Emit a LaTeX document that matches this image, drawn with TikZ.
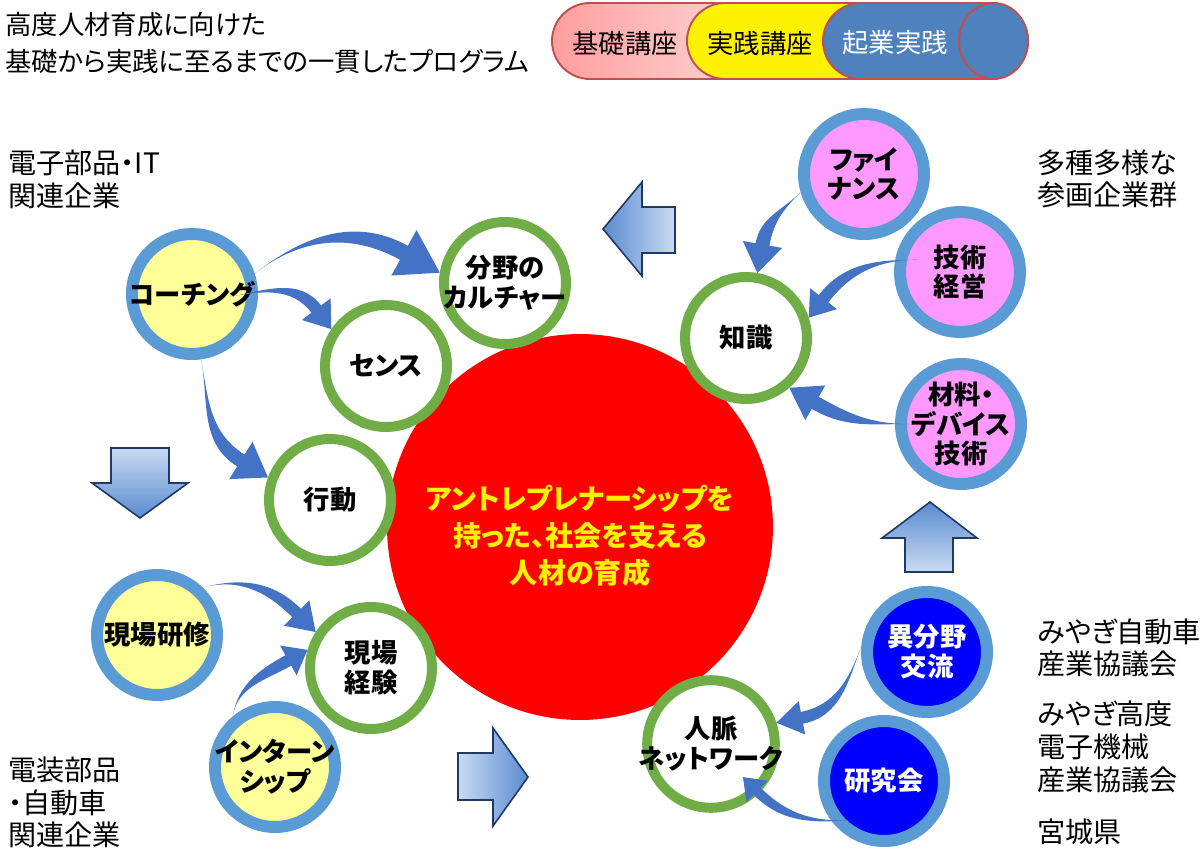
\documentclass[tikz,border=0pt]{standalone}
\usepackage{fontspec}
\setmainfont{Noto Sans CJK JP}[RawFeature=+palt]
\usepackage{tikz}
\usetikzlibrary{calc}

\definecolor{ringgreen}{HTML}{70AD47}
\definecolor{ringblue}{HTML}{5B9BD5}
\definecolor{paleyellow}{HTML}{FFFF99}
\definecolor{pink}{HTML}{FF99FF}
\definecolor{deepblue}{HTML}{0000FF}
\definecolor{flowblue}{HTML}{4472C4}
\definecolor{arrowlight}{HTML}{C9DBF2}
\definecolor{arrowdark}{HTML}{5A8BD0}
\definecolor{arrowline}{HTML}{1F3864}
\definecolor{legred}{HTML}{C0504D}
\definecolor{pinkdark}{HTML}{FF9E9E}
\definecolor{pinklight}{HTML}{FFDADA}
\definecolor{legblue}{HTML}{4F81BD}

% tapered curved arrow: from, out, tip, in, head length, head half width, shaft half width
\newcommand{\bendarrow}[7]{%
  \fill[flowblue] (#1) to[out=#2,in=#4] ($(#3)+(#4:#5)+(#4-90:#7)$)
    -- ($(#3)+(#4:#5)+(#4-90:#6)$) -- (#3) -- ($(#3)+(#4:#5)+(#4+90:#6)$)
    -- ($(#3)+(#4:#5)+(#4+90:#7)$) to[out=#4,in=#2] (#1) -- cycle;}

\begin{document}
\begin{tikzpicture}[x=0.02cm, y=0.02cm,
    greenring/.style={circle, draw=ringgreen, line width=0.2cm, fill=white, minimum size=2.44cm, inner sep=-6pt, align=center, font=\fontsize{15}{17}\selectfont\bfseries},
    bluering/.style={circle, draw=ringblue, line width=0.24cm, minimum size=2.4cm, inner sep=-6pt, align=center, font=\fontsize{15}{17}\selectfont\bfseries},
    sidetext/.style={inner sep=0pt, anchor=north west, align=left, font=\fontsize{16}{18.5}\selectfont},
    legtext/.style={inner sep=0pt, font=\fontsize{15}{17}\selectfont},
    legendline/.style={draw=legred, line width=1.1pt},
    blockarrow/.style={draw=arrowline, line width=0.9pt, line join=miter}]

    \useasboundingbox (0,0) rectangle (1200,-858);

    % Centre
    \node[circle, fill=red, minimum size=7.72cm, inner sep=0pt] (goal) at (580,-527) {};
    \node[align=center, text=yellow, font=\fontsize{16}{21}\selectfont\bfseries] (goaltext) at ($(goal)+(0,-9)$)
        {アントレプレナーシップを\\持った、社会を支える\\人材の育成};

    % Nodes
    \node[greenring] (culture) at (505,-283) {分野の\\カルチャー};
    \node[greenring] (sense) at (386,-366) {センス};
    \node[greenring] (action) at (330,-500) {行動};
    \node[greenring] (field) at (371,-668) {現場\\経験};
    \node[greenring] (network) at (711,-744) {人脈\\ネットワーク};
    \node[greenring] (knowledge) at (746,-338) {知識};

    \node[bluering, fill=paleyellow] (coach) at (192,-294) {コーチング};
    \node[bluering, fill=paleyellow] (training) at (157,-635) {現場研修};
    \node[bluering, fill=paleyellow] (intern) at (275,-767) {インターン\\シップ};

    \node[bluering, fill=pink] (finance) at (864,-174) {ファイ\\ナンス};
    \node[bluering, fill=pink] (mgmt) at (960,-272) {技術\\経営};
    \node[bluering, fill=pink] (device) at (961,-424) {材料・\\デバイス\\技術};

    \node[bluering, fill=deepblue, text=white] (exchange) at (927,-652) {異分野\\交流};
    \node[bluering, fill=deepblue, text=white] (study) at (884,-781) {研究会};

    % Curved arrows
    \bendarrow{coach.18}{38}{culture.171}{151}{41}{26}{8}
    \bendarrow{$(coach)+(-4:38)$}{10}{sense.146}{127}{25}{18}{6}
    \bendarrow{coach.-82}{-80}{action.160}{148}{32}{22}{7}
    \bendarrow{training.46}{15}{field.147}{135}{27}{18}{6}
    \bendarrow{intern.130}{80}{field.164}{209}{22}{17}{6}
    \bendarrow{finance.196}{225}{knowledge.80}{80}{29}{20}{7}
    \bendarrow{$(mgmt)+(163:42)$}{180}{knowledge.18}{52}{24}{17}{6}
    \bendarrow{$(device)+(180:51)$}{180}{knowledge.-49}{-30}{30}{20}{7}
    \bendarrow{exchange.175}{250}{network.18}{11}{26}{17}{6}
    \bendarrow{$(study)+(235:47)$}{185}{$(network)+(-46:46)$}{-45}{20}{15}{5}

    % Block arrows
    \shadedraw[blockarrow, left color=arrowdark, right color=arrowlight] (603,-229) -- (642,-182) -- (642,-207) -- (675,-207) -- (675,-253) -- (642,-253) -- (642,-276) -- cycle;
    \shadedraw[blockarrow, top color=arrowlight, bottom color=arrowdark] (111,-448) -- (169,-448) -- (169,-483) -- (188,-483) -- (140,-518) -- (92,-483) -- (111,-483) -- cycle;
    \shadedraw[blockarrow, top color=arrowdark, bottom color=arrowlight] (905,-572) -- (953,-572) -- (953,-538) -- (977,-538) -- (930,-502) -- (882,-538) -- (905,-538) -- cycle;
    \shadedraw[blockarrow, left color=arrowlight, right color=arrowdark] (458,-753) -- (493,-753) -- (493,-728) -- (528,-777) -- (493,-826) -- (493,-800) -- (458,-800) -- cycle;

    % Legend
    \shadedraw[legendline, rounded corners=0.76cm, left color=pinkdark, right color=pinklight] (552,-3) rectangle (770,-79);
    \filldraw[legendline, rounded corners=0.76cm, fill=yellow] (687,-3) rectangle (900,-79);
    \filldraw[legendline, rounded corners=0.76cm, fill=legblue] (823,-3) rectangle (1028,-79);
    \filldraw[legendline, fill=legblue] (993.5,-41) ellipse [x radius=0.69cm, y radius=0.76cm];
    \node[legtext] (basic) at (625,-43) {基礎講座};
    \node[legtext] (practice) at (760,-43) {実践講座};
    \node[legtext, text=white] (startup) at (895,-43) {起業実践};

    % Side texts
    \node[sidetext, font=\fontsize{15}{21}\selectfont] (title) at (5,-12) {高度人材育成に向けた\\基礎から実践に至るまでの一貫したプログラム};
    \node[sidetext] (elecit) at (8,-150) {電子部品・IT\\関連企業};
    \node[sidetext] (elecauto) at (8,-757) {電装部品\\・自動車\\関連企業};
    \node[sidetext] (various) at (1037,-149) {多種多様な\\参画企業群};
    \node[sidetext] (autocouncil) at (1037,-618) {みやぎ自動車\\産業協議会};
    \node[sidetext] (eleccouncil) at (1037,-701) {みやぎ高度\\電子機械\\産業協議会};
    \node[sidetext] (pref) at (1037,-819) {宮城県};

\end{tikzpicture}
\end{document}
